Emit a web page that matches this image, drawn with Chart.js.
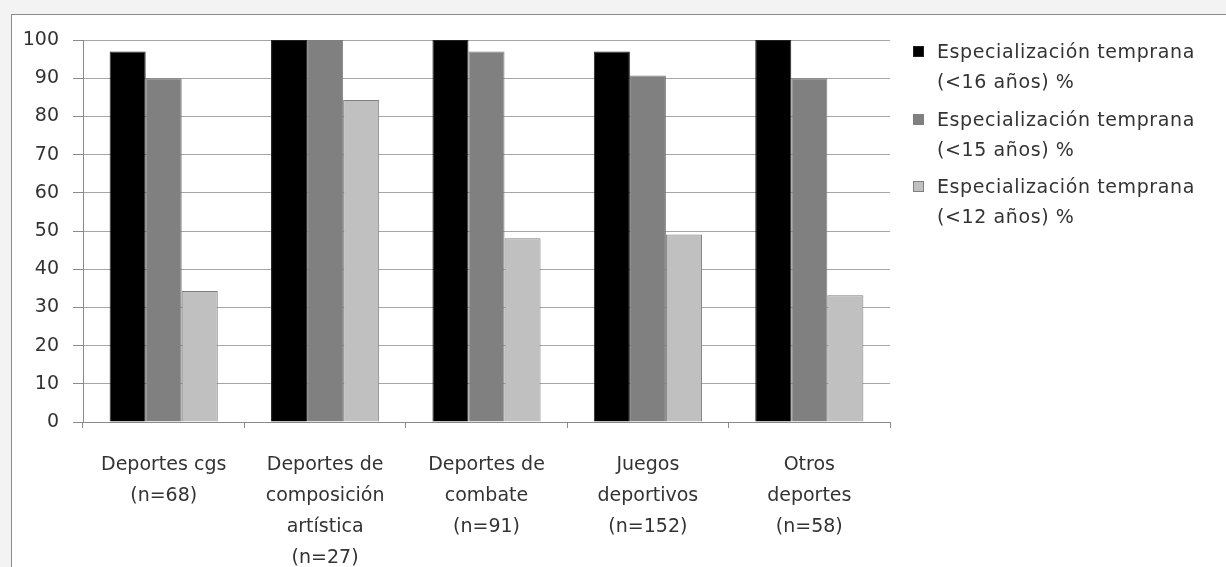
<!DOCTYPE html>
<html>
<head>
<meta charset="utf-8">
<script src="https://cdn.jsdelivr.net/npm/chart.js@4/dist/chart.umd.min.js"></script>
<style>
  html, body { margin: 0; padding: 0; background: #f3f3f3; width: 1226px; height: 567px; overflow: hidden; }
  #frame { position: absolute; left: 11px; top: 14px; width: 1300px; height: 700px; background: #fff; border: 1px solid #8a8a8a; box-sizing: border-box; }
  #c { position: absolute; left: 0; top: 0; }
  #legend { position: absolute; left: 913px; top: 36px; font-family: "DejaVu Sans", sans-serif; font-size: 19px; color: #333; letter-spacing: 0.6px; }
  .item { position: relative; height: 67.5px; }
  .box { position: absolute; left: 0; top: 10px; width: 11px; height: 11px; box-sizing: border-box; border: 1px solid #7f7f7f; }
  .txt { position: absolute; left: 24px; top: 0; line-height: 30px; white-space: nowrap; }
</style>
</head>
<body>
<div id="frame"></div>
<canvas id="c" width="1226" height="567"></canvas>
<div id="legend"></div>
<script>
const categories = [
  ["Deportes cgs", "(n=68)"],
  ["Deportes de", "composición", "artística", "(n=27)"],
  ["Deportes de", "combate", "(n=91)"],
  ["Juegos", "deportivos", "(n=152)"],
  ["Otros", "deportes", "(n=58)"]
];
const seriesLabels = [
  "Especialización temprana (<16 años) %",
  "Especialización temprana (<15 años) %",
  "Especialización temprana (<12 años) %"
];
const under16 = [97, 100, 100, 97, 100];
const under15 = [90, 100, 97, 90.7, 90];
const under12 = [34.3, 84.3, 48.1, 49.1, 33.2];
const seriesColors = ["#000000", "#808080", "#c0c0c0"];
const yTicks = [0, 10, 20, 30, 40, 50, 60, 70, 80, 90, 100];

const font = { family: "DejaVu Sans, sans-serif", size: 19 };
const seriesData = [under16, under15, under12];

const chart = new Chart(document.getElementById("c"), {
  type: "bar",
  data: {
    labels: categories,
    datasets: seriesData.map((d, i) => ({
      label: seriesLabels[i],
      data: d,
      backgroundColor: seriesColors[i],
      borderColor: i === 0 ? "#222" : "#7f7f7f",
      borderWidth: 1,
      categoryPercentage: 0.67,
      barPercentage: 1.0
    }))
  },
  options: {
    responsive: false,
    animation: false,
    devicePixelRatio: 1,
    layout: { padding: { left: 0, right: 336, top: 40, bottom: 0 } },
    plugins: { legend: { display: false }, tooltip: { enabled: false } },
    scales: {
      x: {
        offset: true,
        grid: { offset: true, drawOnChartArea: false, drawTicks: true, tickLength: 6, color: "#8a8a8a" },
        border: { display: true, color: "#8a8a8a" },
        ticks: { font: { ...font, lineHeight: 1.63 }, color: "#333", padding: 22, maxRotation: 0, autoSkip: false },
        afterFit: s => { s.height = 145; }
      },
      y: {
        min: 0, max: 100,
        afterBuildTicks: s => { s.ticks = yTicks.map(v => ({ value: v })); },
        grid: { color: "#a6a6a6", tickLength: 10, tickColor: "#8a8a8a" },
        border: { display: true, color: "#8a8a8a" },
        ticks: { font: font, color: "#333", padding: 14 },
        afterFit: s => { s.width = 83; }
      }
    }
  }
});

const legend = document.getElementById("legend");
seriesLabels.forEach((lab, i) => {
  const idx = lab.indexOf(" (");
  const item = document.createElement("div");
  item.className = "item";
  const box = document.createElement("div");
  box.className = "box";
  box.style.background = seriesColors[i];
  if (i === 0) box.style.borderColor = "#222";
  const txt = document.createElement("div");
  txt.className = "txt";
  txt.appendChild(document.createTextNode(lab.slice(0, idx)));
  txt.appendChild(document.createElement("br"));
  txt.appendChild(document.createTextNode(lab.slice(idx + 1)));
  item.appendChild(box);
  item.appendChild(txt);
  legend.appendChild(item);
});
</script>
</body>
</html>
